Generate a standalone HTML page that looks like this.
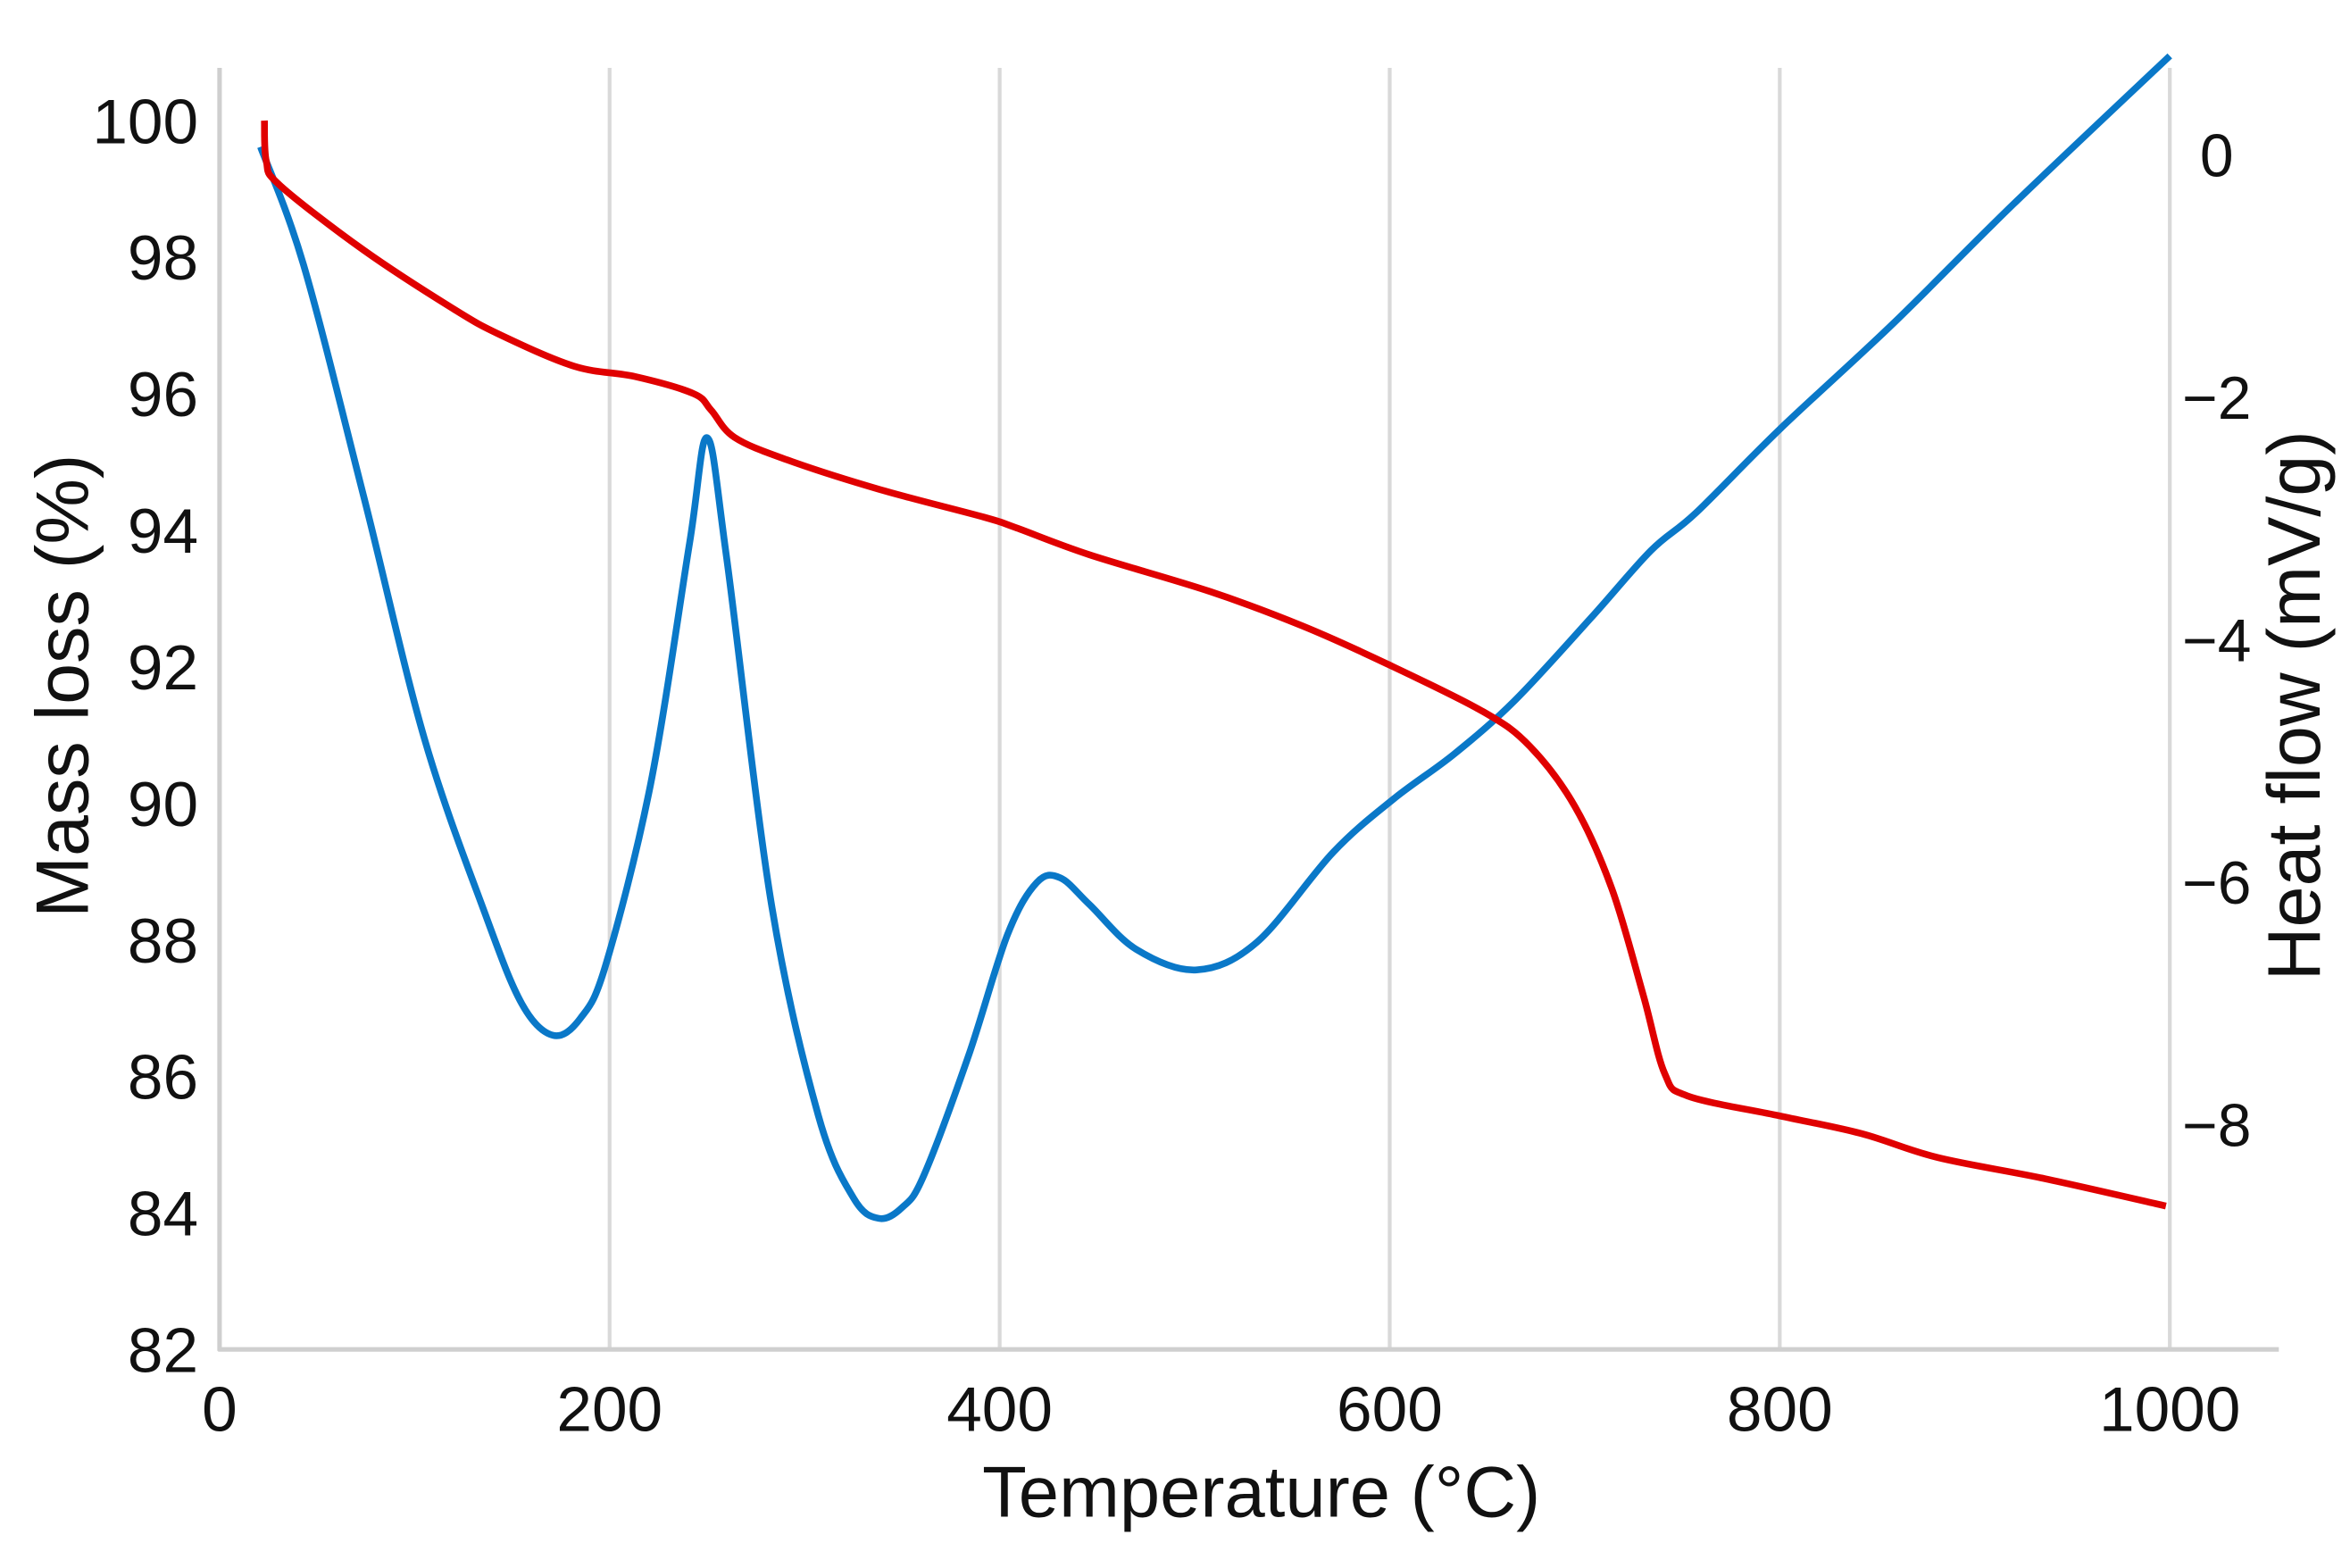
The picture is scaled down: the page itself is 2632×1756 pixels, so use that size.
<!DOCTYPE html>
<html><head><meta charset="utf-8"><style>
html,body{margin:0;padding:0;background:#fff;}
svg{display:block;}
text{font-family:"Liberation Sans",Arial,sans-serif;fill:#111;}
</style></head><body>
<svg id="chart" width="2632" height="1756" viewBox="0 0 1552 1040" preserveAspectRatio="none" xmlns="http://www.w3.org/2000/svg">
<g id="grid"></g>
<g id="axes"></g>
<g id="series"></g>
<text x="833" y="1006" font-size="48" text-anchor="middle">Temperature (°C)</text>
<text transform="translate(58,455) rotate(-90)" font-size="49" text-anchor="middle">Mass loss (%)</text>
<text transform="translate(1532,468) rotate(-90)" font-size="49" text-anchor="middle">Heat flow (mV/g)</text>
</svg>
<script>
const xTicks = [0,200,400,600,800,1000];
const massTicks = [82,84,86,88,90,92,94,96,98,100];
const heatTicks = [0,-2,-4,-6,-8];
const massT = [23,24,31,74,120,144,182,213,243,252,264,291,338,392,408,446,508,555,598,648,672,695,714,730,741,753,800,842,881,936,998];
const massV = [100,99.4,99.05,98.1,97.24,96.86,96.4,96.25,96.0,95.76,95.36,95.03,94.6,94.19,94.04,93.64,93.1,92.6,92.05,91.34,90.83,89.95,88.74,87.19,86.04,85.71,85.42,85.16,84.81,84.5,84.1];
const heatT = [21,43,74,105,136,155,171,185,198,221,241,250,260,283,307,325,338,350,361,384,404,419,431,446,470,501,532,571,602,633,664,703,734,757,800,858,920,1000];
const heatV = [0.07,-0.9,-2.82,-4.81,-6.25,-7.0,-7.26,-7.12,-6.68,-5.19,-3.2,-2.33,-3.32,-6.18,-7.92,-8.6,-8.77,-8.68,-8.42,-7.43,-6.43,-6.0,-5.96,-6.18,-6.55,-6.72,-6.49,-5.75,-5.31,-4.94,-4.5,-3.82,-3.26,-2.95,-2.26,-1.39,-0.4,0.82];

const NS='http://www.w3.org/2000/svg';
function xS(t){return 145+t*1.288;}
function yM(m){return 895-(m-82)*45.28;}
function yH(h){return 103-h*80.4;}
function mk(tag,attrs,parent){const e=document.createElementNS(NS,tag);for(const k in attrs)e.setAttribute(k,attrs[k]);parent.appendChild(e);return e;}
const grid=document.getElementById('grid'),axes=document.getElementById('axes'),series=document.getElementById('series');
xTicks.forEach(t=>{
  if(t>0){const l=mk('line',{x1:xS(t),x2:xS(t),y1:45,y2:895,stroke:'#d9d9d9','stroke-width':2.5},grid);
  
  }
  const tx=mk('text',{x:xS(t),y:949,'font-size':42,'text-anchor':'middle'},axes);tx.textContent=t;
  
  
});
let a=mk('line',{x1:145,x2:145,y1:45,y2:896,stroke:'#cfcfcf','stroke-width':3},axes);


a=mk('line',{x1:144,x2:1505,y1:895,y2:895,stroke:'#cfcfcf','stroke-width':3},axes);


massTicks.forEach(m=>{
  const tx=mk('text',{x:131,y:yM(m)+15,'font-size':42,'text-anchor':'end'},axes);tx.textContent=m;
  
  
});
heatTicks.forEach(h=>{
  const tx=mk('text',{x:1464,y:yH(h)+14,'font-size':40,'text-anchor':'middle'},axes);tx.textContent=(h<0?'\u2212':'')+Math.abs(h);
  
  
});
function smooth(pts){
  let d='M'+pts[0][0]+','+pts[0][1];
  for(let i=0;i<pts.length-1;i++){
    const p0=pts[i-1]||pts[i],p1=pts[i],p2=pts[i+1],p3=pts[i+2]||p2;
    const c1=[p1[0]+(p2[0]-p0[0])/6,p1[1]+(p2[1]-p0[1])/6],c2=[p2[0]-(p3[0]-p1[0])/6,p2[1]-(p3[1]-p1[1])/6];
    d+=' C'+c1[0]+','+c1[1]+' '+c2[0]+','+c2[1]+' '+p2[0]+','+p2[1];
  }
  return d;
}
const heatPts=heatT.map((t,i)=>[xS(t),yH(heatV[i])]);
const hp=mk('path',{d:smooth(heatPts),fill:'none',stroke:'#0a78c8','stroke-width':4.5,'stroke-linejoin':'round'},series);


const massPts=massT.map((t,i)=>[xS(t),yM(massV[i])]);
const mp=mk('path',{d:smooth(massPts),fill:'none',stroke:'#e00000','stroke-width':4.5,'stroke-linejoin':'round'},series);


</script>
</body></html>
